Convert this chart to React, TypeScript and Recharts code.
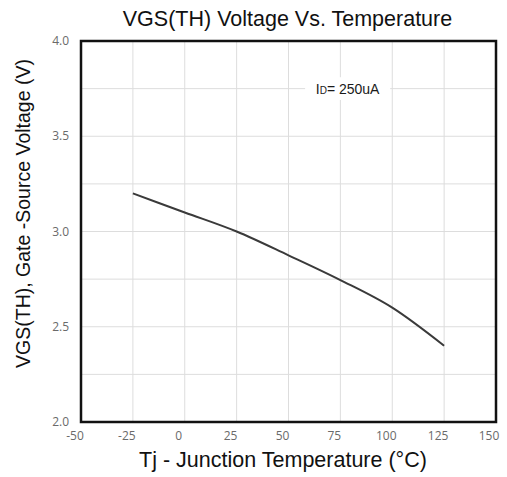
import React from 'react';
import { LineChart, Line, XAxis, YAxis, CartesianGrid, ReferenceArea } from 'recharts';

const temps = [-25, 0, 25, 50, 75, 100, 125];
const vgs = [3.2, 3.1, 3.0, 2.875, 2.745, 2.6, 2.4];
const xTicks = [-50, -25, 0, 25, 50, 75, 100, 125, 150];
const yTicks = [2.0, 2.5, 3.0, 3.5, 4.0];
const yGrid = [2.0, 2.25, 2.5, 2.75, 3.0, 3.25, 3.5, 3.75, 4.0];
const title = 'VGS(TH) Voltage Vs. Temperature';
const xTitle = 'Tj - Junction Temperature (°C)';
const yTitle = 'VGS(TH), Gate -Source Voltage (V)';
const noteBox = { x1: 58, x2: 99, y1: 3.69, y2: 3.81 };

const data = temps.map((t, i) => ({ t, v: vgs[i] }));

const FONT = 'Liberation Sans, Arial';

const XTick = (props: any) => {
  const { x, y, payload } = props;
  return (
    <text x={x - 6} y={y + 10} textAnchor="middle" fontFamily="Open Sans" fontSize={12} fill="#6a6a6a">
      {payload.value}
    </text>
  );
};

const YTick = (props: any) => {
  const { x, y, payload } = props;
  return (
    <text x={x - 4} y={y + 4} textAnchor="end" fontFamily="Open Sans" fontSize={12} fill="#6a6a6a">
      {Number(payload.value).toFixed(1)}
    </text>
  );
};

const NoteLabel = (props: any) => {
  const vb = props.viewBox || {};
  const cx = vb.x + vb.width / 2;
  const cy = vb.y + vb.height / 2;
  return (
    <text x={cx} y={cy + 5} textAnchor="middle" fontFamily={FONT} fontSize={14} fill="#1a1a1a">
      I<tspan fontSize={10}>D</tspan>= 250uA
    </text>
  );
};

export default function App() {
  return (
    <div style={{ position: 'absolute', left: 0, top: 0, width: 507, height: 477, background: '#fff' }}>
      <LineChart width={507} height={477} data={data} margin={{ top: 41, right: 11, left: 0, bottom: 0 }}>
        <CartesianGrid stroke="#ddd" strokeWidth={1} horizontalValues={yGrid} verticalValues={xTicks} />
        <XAxis
          dataKey="t"
          type="number"
          domain={[-50, 150]}
          ticks={xTicks}
          axisLine={false}
          tickLine={false}
          tick={<XTick />}
          height={55}
        />
        <YAxis
          type="number"
          domain={[2, 4]}
          ticks={yTicks}
          axisLine={false}
          tickLine={false}
          tick={<YTick />}
          width={81}
        />
        <ReferenceArea
          x1={noteBox.x1}
          x2={noteBox.x2}
          y1={noteBox.y1}
          y2={noteBox.y2}
          fill="#fff"
          fillOpacity={1}
          stroke="none"
          label={<NoteLabel />}
        />
        <Line
          dataKey="v"
          type="monotone"
          stroke="#3a3a3a"
          strokeWidth={2}
          dot={false}
          isAnimationActive={false}
        />
        <ReferenceArea x1={-50} x2={150} y1={2} y2={4} fill="none" stroke="#111" strokeWidth={2.5} />
      </LineChart>
      <svg
        width={507}
        height={477}
        style={{ position: 'absolute', left: 0, top: 0, pointerEvents: 'none' }}
      >
        <text x={287.5} y={26} textAnchor="middle" fontFamily={FONT} fontSize={21.5} fill="#111">
          {title}
        </text>
        <text x={283} y={467} textAnchor="middle" fontFamily={FONT} fontSize={21.5} fill="#111">
          {xTitle}
        </text>
        <text
          x={0}
          y={0}
          transform="translate(30,213.5) rotate(-90)"
          textAnchor="middle"
          fontFamily={FONT}
          fontSize={19.5}
          fill="#111"
        >
          {yTitle}
        </text>
      </svg>
    </div>
  );
}
